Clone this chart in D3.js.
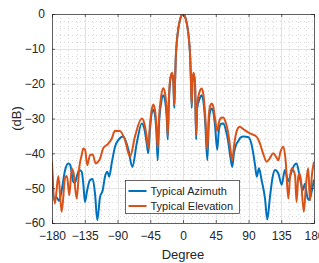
<!DOCTYPE html>
<html>
<head>
<meta charset="utf-8">
<script src="https://cdn.jsdelivr.net/npm/d3@7"></script>
<style>
  body { margin: 0; background: #fff; }
  svg text { font-family: "Liberation Sans", Arial, Helvetica, sans-serif; fill: #262626; }
</style>
</head>
<body>
<div id="chart"></div>
<script>
var w = 319,
    h = 263,
    left_pad = 52,
    top_pad = 14,
    plot_w = 262,
    plot_h = 209;

// x ticks / y ticks
var xTicks = [-180, -135, -90, -45, 0, 45, 90, 135, 180];
var yTicks = [-60, -50, -40, -30, -20, -10, 0];
var seriesNames = ["Typical Azimuth", "Typical Elevation"];

// Typical Azimuth (blue), degrees and dB
var azDeg = [-180, -177.2, -174, -170.4, -167, -162, -157.6, -155, -150.7, -148.5, -146, -142.5, -139.2, -137, -134.7, -132,
    -127.8, -124.1, -120.9, -117.8, -114, -110.3, -107.2, -104, -101.3, -98, -93.4, -88.9, -82, -75, -69.6, -63.6,
    -56.7, -53, -50, -47.7, -45.5, -43, -40.8, -38.5, -36.5, -34.8, -33, -30, -27, -24.5, -22.3, -21, -19.5, -17.5,
    -15, -13.3, -12, -11, -10, -8.5, -6.5, -4, -2, 0, 2, 4, 6.5, 8.5, 10, 11, 12, 13, 14.5, 16.5, 18, 19.5, 22.5,
    25.6, 28, 30.5, 33.4, 35.5, 37.5, 39.4, 41.5, 44, 47, 49.5, 52.5, 55.4, 58.5, 62, 65, 67.7, 70, 73, 76, 79, 83,
    90, 94.4, 99, 101.3, 104.4, 108, 112.7, 115.8, 119.5, 123, 126.4, 131, 135.6, 140, 144.7, 148, 151.6, 156, 160.8,
    164.5, 167.6, 170.8, 173.5, 176.8, 180];
var azDb = [-45.8, -53.4, -52.5, -53.7, -51, -44.8, -42.9, -43.3, -48.2, -48.5, -46.7, -44.8, -45.3, -48.7, -54, -51,
    -47.7, -47.4, -51.5, -59.2, -52.5, -50.6, -46.7, -45.3, -46.7, -42.9, -38.1, -36.2, -35.2, -39, -43.9, -37.2,
    -31.4, -33, -37, -40, -33.5, -28.5, -27.5, -29, -34, -42, -32, -25.5, -23.3, -25, -30, -36, -26, -19,
    -17.2, -19.5, -27, -20, -13, -8, -4.3, -1.6, -0.4, 0, -0.4, -1.6, -4.3, -8, -13, -20, -27, -19.5, -17.2, -20, -36, -27, -24.5,
    -23.3, -25, -31, -42, -31, -27.8, -27.1, -28, -32, -39, -33, -31.5, -31.4, -33, -36.5, -41, -43.9, -40, -37.5, -36.5, -35.5, -35.2,
    -35.4, -37.6, -43.4, -46.7, -44.3, -47.7, -53, -59, -52.5, -47, -44.8, -45.8, -49, -44.8, -48, -46, -43.9, -42.9, -47.2,
    -50.6, -48.7, -52.5, -53.4, -51, -47.5];

// Typical Elevation (orange)
var elDeg = [-180, -176, -171.3, -166.7, -162, -159.5, -156.2, -152.9, -150.5, -146, -142.5, -139.2, -137, -134.5, -131.5,
    -127.8, -124.1, -120, -117, -114, -109.5, -102.6, -98, -93.4, -86.6, -79.7, -72.8, -66,
    -56.7, -53, -50, -47.7, -45.5, -43, -40.8, -38.5, -36.5, -34.8, -33, -30, -27, -24.5, -22.3, -21, -19.5, -17.5,
    -15, -13.3, -12, -11, -10, -8.5, -6.5, -4, -2, 0, 2, 4, 6.5, 8.5, 10, 11, 12, 13, 14.5, 16.5, 18, 19.5, 22.5,
    25.6, 28, 30.5, 33.4, 35.5, 37.5, 39.4, 41.5, 44, 47, 49.5, 52.5, 55.4, 58.5, 62, 65, 67.7, 70, 74, 78, 82.5, 86,
    92, 101, 105.8, 110, 115, 119, 124, 128, 131, 134, 138, 141, 144.7, 147, 149.4, 152, 154, 156, 158.5, 160, 162,
    166, 169, 172, 174.5, 177, 180];
var elDb = [-42.4, -54.4, -46.5, -56.8, -47, -46.5, -52, -44.4, -45.5, -53, -44, -40.5, -38.6, -39, -43.4,
    -40.5, -40.3, -42.9, -42.5, -41.5, -38.5, -37.2, -35.8, -33.5, -33.6, -36.2, -41, -35.2,
    -30, -31.5, -35, -38.5, -32, -27.5, -26, -27.5, -32, -38.5, -30, -23.5, -21.3, -23, -28, -35, -25, -18.5,
    -16.9, -19, -26, -20, -13, -8, -4.3, -1.6, -0.4, 0, -0.4, -1.6, -4.3, -8, -13, -20, -26, -19, -16.9, -19.5, -34.8, -26, -22.5,
    -21.4, -23, -29, -39, -29, -26.3, -25.7, -26.5, -30, -33.5, -31, -29.8, -29.7, -31, -34, -38.5, -42, -38, -33.5, -32.4, -33, -33.5,
    -34.3, -35.2, -37.2, -40, -42.4, -41.5, -40, -41, -42, -39.5, -38.1, -42, -53, -47, -44.3, -45, -46.5, -54, -46.5, -45.8, -47.5,
    -56.8, -49, -44.3, -53.5, -46.5, -42.4];

var colors = ["#0072BD", "#D95319"];

var svg = d3.select("#chart")
    .append("svg")
    .attr("width", w)
    .attr("height", h);

var x = d3.scaleLinear().domain([-180, 180]).range([left_pad, left_pad + plot_w]),
    y = d3.scaleLinear().domain([-60, 0]).range([top_pad + plot_h, top_pad]);

// minor grid (dotted)
var xMinor = d3.range(-180, 180.01, 11.25).filter(function (d) { return d % 45 != 0; });
var yMinor = d3.range(-60, 0.01, 2).filter(function (d) { return d % 10 != 0; });

svg.append("g").selectAll("line")
    .data(xMinor).enter().append("line")
    .attr("x1", function (d) { return Math.round(x(d)) + 0.5; })
    .attr("x2", function (d) { return Math.round(x(d)) + 0.5; })
    .attr("y1", top_pad).attr("y2", top_pad + plot_h)
    .style("stroke", "#d9d9d9").style("stroke-dasharray", "1,3");

svg.append("g").selectAll("line")
    .data(yMinor).enter().append("line")
    .attr("y1", function (d) { return Math.round(y(d)) + 0.5; })
    .attr("y2", function (d) { return Math.round(y(d)) + 0.5; })
    .attr("x1", left_pad).attr("x2", left_pad + plot_w)
    .style("stroke", "#d9d9d9").style("stroke-dasharray", "1,3");

// major grid
svg.append("g").selectAll("line")
    .data(xTicks).enter().append("line")
    .attr("x1", function (d) { return Math.round(x(d)) + 0.5; })
    .attr("x2", function (d) { return Math.round(x(d)) + 0.5; })
    .attr("y1", top_pad).attr("y2", top_pad + plot_h)
    .style("stroke", "#e3e3e3");

svg.append("g").selectAll("line")
    .data(yTicks).enter().append("line")
    .attr("y1", function (d) { return Math.round(y(d)) + 0.5; })
    .attr("y2", function (d) { return Math.round(y(d)) + 0.5; })
    .attr("x1", left_pad).attr("x2", left_pad + plot_w)
    .style("stroke", "#e3e3e3");

// data lines
svg.append("clipPath").attr("id", "clip")
    .append("rect")
    .attr("x", left_pad).attr("y", top_pad)
    .attr("width", plot_w).attr("height", plot_h);

var line = d3.line()
    .x(function (d) { return x(d[0]); })
    .y(function (d) { return y(d[1]); })
    .curve(d3.curveMonotoneX);

var series = [d3.zip(azDeg, azDb), d3.zip(elDeg, elDb)];

svg.append("g").attr("clip-path", "url(#clip)")
    .selectAll("path")
    .data(series).enter().append("path")
    .attr("d", line)
    .style("fill", "none")
    .style("stroke", function (d, i) { return colors[i]; })
    .style("stroke-width", 2)
    .style("stroke-linejoin", "round");

// axes (inward ticks on all four sides, box)
var xAxis = d3.axisBottom(x).tickValues(xTicks).tickSize(-3).tickPadding(8),
    yAxis = d3.axisLeft(y).tickValues(yTicks).tickSize(-3).tickPadding(7);

var gx = svg.append("g")
    .attr("transform", "translate(0," + (top_pad + plot_h) + ")")
    .call(xAxis);
var gy = svg.append("g")
    .attr("transform", "translate(" + left_pad + ",0)")
    .call(yAxis);

svg.append("g")
    .attr("transform", "translate(0," + top_pad + ")")
    .call(d3.axisTop(x).tickValues(xTicks).tickSize(-3).tickFormat(""));
svg.append("g")
    .attr("transform", "translate(" + (left_pad + plot_w) + ",0)")
    .call(d3.axisRight(y).tickValues(yTicks).tickSize(-3).tickFormat(""));

svg.selectAll(".domain, .tick line").style("stroke", "#262626").style("stroke-width", 0.7);
svg.selectAll(".tick text")
    .style("font-size", "12px")
    .style("font-family", "Liberation Sans, Arial, sans-serif")
    .style("fill", "#262626");

// axis labels
svg.append("text")
    .attr("x", left_pad + plot_w / 2)
    .attr("y", 259)
    .attr("text-anchor", "middle")
    .style("font-size", "13px")
    .text("Degree");

svg.append("text")
    .attr("transform", "translate(21," + (top_pad + plot_h / 2) + ") rotate(-90)")
    .attr("text-anchor", "middle")
    .style("font-size", "13px")
    .text("(dB)");

// legend
var lg = svg.append("g").attr("transform", "translate(125.5,180.5)");
lg.append("rect")
    .attr("width", 114).attr("height", 33)
    .style("fill", "#fff")
    .style("stroke", "#262626")
    .style("stroke-width", 0.7);

seriesNames.forEach(function (name, i) {
    var yy = 10.5 + i * 15;
    lg.append("line")
        .attr("x1", 3).attr("x2", 21)
        .attr("y1", yy).attr("y2", yy)
        .style("stroke", colors[i])
        .style("stroke-width", 2);
    lg.append("text")
        .attr("x", 25)
        .attr("y", yy + 4)
        .style("font-size", "11px")
        .text(name);
});
</script>
</body>
</html>
